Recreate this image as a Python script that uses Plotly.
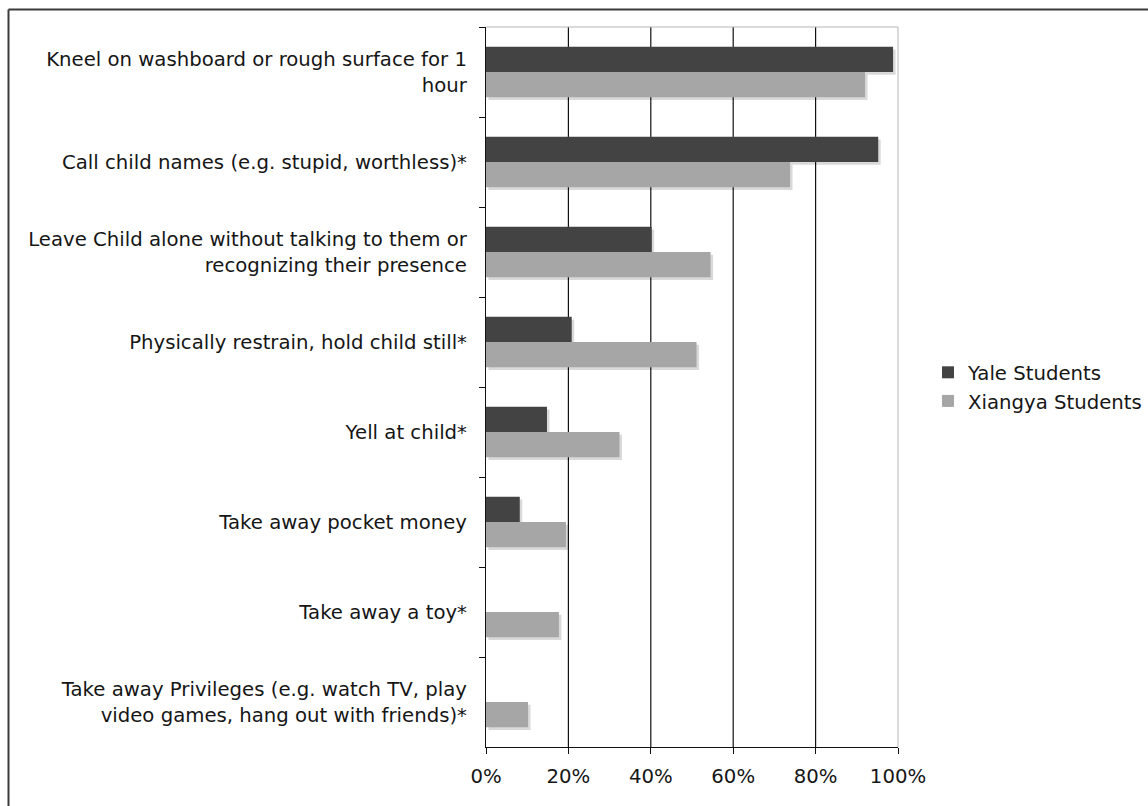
import plotly.graph_objects as go

categories = [
    "Kneel on washboard or rough surface for 1<br>hour",
    "Call child names (e.g. stupid, worthless)*",
    "Leave Child alone without talking to them or<br>recognizing their presence",
    "Physically restrain, hold child still*",
    "Yell at child*",
    "Take away pocket money",
    "Take away a toy*",
    "Take away Privileges (e.g. watch TV, play<br>video games, hang out with friends)*",
]
yale = [98.8, 95.2, 40.2, 20.8, 14.8, 8.2, 0, 0]
xiangya = [92.0, 73.8, 54.5, 51.1, 32.4, 19.4, 17.7, 10.2]
series_names = ["Yale Students", "Xiangya Students"]
tick_vals = [0, 20, 40, 60, 80, 100]
tick_text = ["0%", "20%", "40%", "60%", "80%", "100%"]

FONT = "DejaVu Sans, Verdana, sans-serif"
FS = 19.7
TXT = "#161616"
C_YALE = "#434343"
C_XI = "#a6a6a6"
SHADOW = "rgba(0,0,0,0.15)"

W, H = 1148, 806
L, R, T, B = 486, 250, 27, 59
pw = W - L - R
ph = H - T - B
ncat = len(categories)
sx = 2.5 / pw * 100           # shadow shift right (data units)
sy = 2.8 / (ph / ncat)        # shadow shift down (category units)

fig = go.Figure()
# shadows on base axes
for vals in (yale, xiangya):
    fig.add_trace(go.Bar(y=categories, x=vals, orientation="h",
                         marker=dict(color=SHADOW, line=dict(width=0)),
                         showlegend=False, hoverinfo="skip",
                         xaxis="x", yaxis="y"))
# real bars on overlay axes
for name, vals, col in ((series_names[0], yale, C_YALE), (series_names[1], xiangya, C_XI)):
    fig.add_trace(go.Bar(y=categories, x=vals, orientation="h", name=name,
                         marker=dict(color=col, line=dict(width=0)),
                         xaxis="x2", yaxis="y2"))

shapes = []
for v in tick_vals[1:-1]:
    shapes.append(dict(type="line", xref="x2", yref="paper", x0=v, x1=v, y0=0, y1=1,
                       line=dict(color="#111", width=1.2), layer="below"))
# light plot border top/right
shapes.append(dict(type="line", xref="paper", yref="paper", x0=0, x1=1, y0=1, y1=1,
                   line=dict(color="#b5b5b5", width=1), layer="below"))
shapes.append(dict(type="line", xref="paper", yref="paper", x0=1, x1=1, y0=0, y1=1,
                   line=dict(color="#b5b5b5", width=1), layer="below"))
# outer frame (top and left)
bx = (8.5 - L) / pw
by = (H - B - 9.5) / ph
shapes.append(dict(type="line", xref="paper", yref="paper", x0=bx, x1=3, y0=by, y1=by,
                   line=dict(color="#3a3a3a", width=2)))
shapes.append(dict(type="line", xref="paper", yref="paper", x0=bx, x1=bx, y0=by, y1=-1,
                   line=dict(color="#3a3a3a", width=2)))

fig.update_layout(
    width=W, height=H,
    margin=dict(l=L, r=R, t=T, b=B, autoexpand=False),
    paper_bgcolor="white", plot_bgcolor="white",
    barmode="group", bargap=0.44, bargroupgap=0,
    font=dict(family=FONT, size=FS, color=TXT),
    showlegend=True,
    legend=dict(x=(928 - L) / pw, y=(H - B - 353) / ph, xanchor="left", yanchor="top",
                font=dict(family=FONT, size=FS, color=TXT), itemwidth=30,
                bgcolor="rgba(0,0,0,0)", tracegroupgap=0),
    xaxis=dict(range=[-sx, 100 - sx], visible=False, fixedrange=True),
    yaxis=dict(type="category", categoryorder="array", categoryarray=categories,
               range=[ncat - 0.5 - sy, -0.5 - sy], visible=False),
    xaxis2=dict(overlaying="x", side="bottom", anchor="y2", range=[0, 100],
                tickmode="array", tickvals=tick_vals, ticktext=tick_text,
                showgrid=False, zeroline=False, showline=True, linecolor="#111", linewidth=1.2,
                ticks="outside", ticklen=6, tickcolor="#111", tickwidth=1.2,
                tickfont=dict(family=FONT, size=FS, color=TXT), ticklabelstandoff=5),
    yaxis2=dict(overlaying="y", side="left", anchor="x2", type="category",
                categoryorder="array", categoryarray=categories,
                range=[ncat - 0.5, -0.5], tickson="boundaries",
                showgrid=False, zeroline=False, showline=True, linecolor="#111", linewidth=1.2,
                ticks="outside", ticklen=6, tickcolor="#111", tickwidth=1.2,
                tickfont=dict(family=FONT, size=FS, color=TXT), ticklabelstandoff=14),
    shapes=shapes,
)

fig.write_html("out.html")
